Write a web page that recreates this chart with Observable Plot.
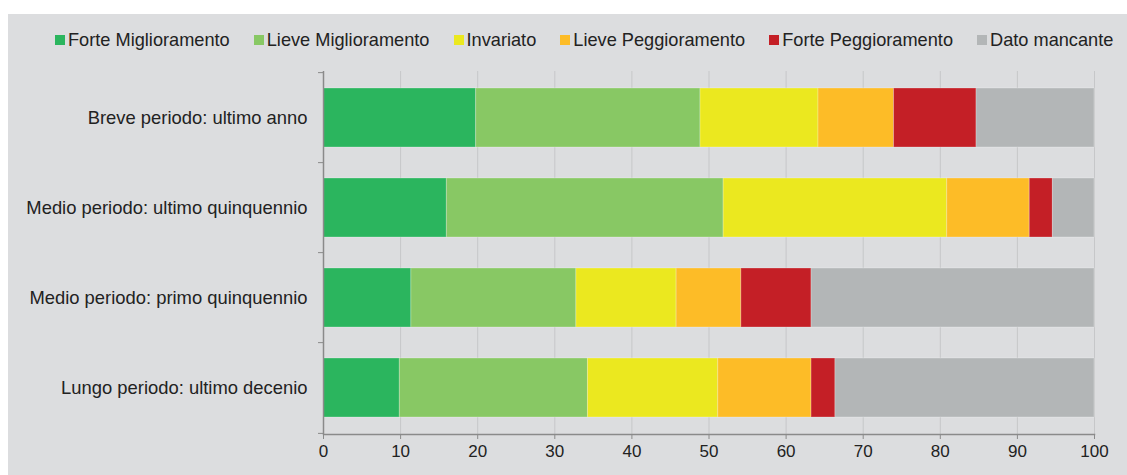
<!DOCTYPE html>
<html>
<head>
<meta charset="utf-8">
<script src="https://cdn.jsdelivr.net/npm/d3@7"></script>
<script src="https://cdn.jsdelivr.net/npm/@observablehq/plot@0.6"></script>
<style>
  html, body { margin: 0; padding: 0; background: #ffffff; }
  body { width: 1127px; height: 475px; position: relative; overflow: hidden;
         font-family: "Liberation Sans", Arial, sans-serif; }
  #panel { position: absolute; left: 8px; top: 14px; width: 1119px; height: 461px; background: #dcdddf; }
  #legend { position: absolute; left: 47px; top: 16px; height: 20px; display: flex; align-items: center;
            font-size: 18.2px; color: #222; z-index: 2; white-space: nowrap; }
  .item { display: flex; align-items: center; margin-right: 24px; }
  .sw { width: 10px; height: 10px; margin-right: 3px; }
  #chart { position: absolute; left: 0; top: 0; }
</style>
</head>
<body>
<div id="panel">
  <div id="legend"></div>
  <div id="chart"></div>
</div>
<script>
const categories = [
  "Breve periodo: ultimo anno",
  "Medio periodo: ultimo quinquennio",
  "Medio periodo: primo quinquennio",
  "Lungo periodo: ultimo decenio"
];
const series = ["Forte Miglioramento", "Lieve Miglioramento", "Invariato", "Lieve Peggioramento", "Forte Peggioramento", "Dato mancante"];
const colors = ["#2bb55e", "#88c864", "#ebe81f", "#fdbc27", "#c41f26", "#b3b6b7"];

const forteMiglioramento = [19.8, 16.0, 11.4, 9.9];
const lieveMiglioramento = [29.1, 35.9, 21.4, 24.4];
const invariato          = [15.3, 29.0, 13.0, 16.9];
const lievePeggioramento = [9.8, 10.7, 8.4, 12.1];
const fortePeggioramento = [10.7, 3.0, 9.1, 3.1];
const datoMancante       = [15.3, 5.4, 36.7, 33.6];

const xTicks = [0, 10, 20, 30, 40, 50, 60, 70, 80, 90, 100];

const valuesBySeries = [forteMiglioramento, lieveMiglioramento, invariato, lievePeggioramento, fortePeggioramento, datoMancante];
const data = [];
series.forEach((s, si) => {
  categories.forEach((c, ci) => {
    data.push({category: c, series: s, value: valuesBySeries[si][ci]});
  });
});

// legend
const legend = document.getElementById("legend");
series.forEach((s, i) => {
  const it = document.createElement("div");
  it.className = "item";
  const sw = document.createElement("div");
  sw.className = "sw";
  sw.style.background = colors[i];
  const tx = document.createElement("span");
  tx.textContent = s;
  it.appendChild(sw); it.appendChild(tx);
  legend.appendChild(it);
});

const W = 1119, H = 461, mT = 57, mB = 41, mL = 315, mR = 33;
const step = (H - mT - mB) / categories.length;

const chart = Plot.plot({
  width: W,
  height: H,
  marginTop: mT,
  marginBottom: mB,
  marginLeft: mL,
  marginRight: mR,
  style: { background: "transparent", fontFamily: "'Liberation Sans', Arial, sans-serif", color: "#222", overflow: "visible" },
  x: { domain: [0, 100] },
  y: { domain: categories, paddingInner: 0.34, paddingOuter: 0.17 },
  color: { domain: series, range: colors },
  marks: [
    Plot.gridX(xTicks, { stroke: "#c6c7c9", strokeOpacity: 1 }),
    Plot.barX(data, Plot.stackX({ x: "value", y: "category", fill: "series", order: series, stroke: "#ffffff", strokeOpacity: 0.25, strokeWidth: 1 })),
    Plot.ruleX([0], { stroke: "#8a8a8a", strokeWidth: 1.5 }),
    Plot.frame({ anchor: "bottom", stroke: "#8a8a8a", strokeWidth: 1.5 }),
    Plot.axisY({ tickSize: 0, tickPadding: 16, fontSize: 18.4, label: null, fill: "#222" }),
    Plot.axisY({ tickSize: 5, text: null, dy: -step / 2, stroke: "#8a8a8a", label: null }),
    Plot.axisY([categories[categories.length - 1]], { tickSize: 5, text: null, dy: step / 2, stroke: "#8a8a8a", label: null }),
    Plot.axisX(xTicks, { tickSize: 5, tickPadding: 5, fontSize: 17, label: null, stroke: "#8a8a8a", fill: "#222" })
  ]
});
document.getElementById("chart").appendChild(chart);
</script>
</body>
</html>
